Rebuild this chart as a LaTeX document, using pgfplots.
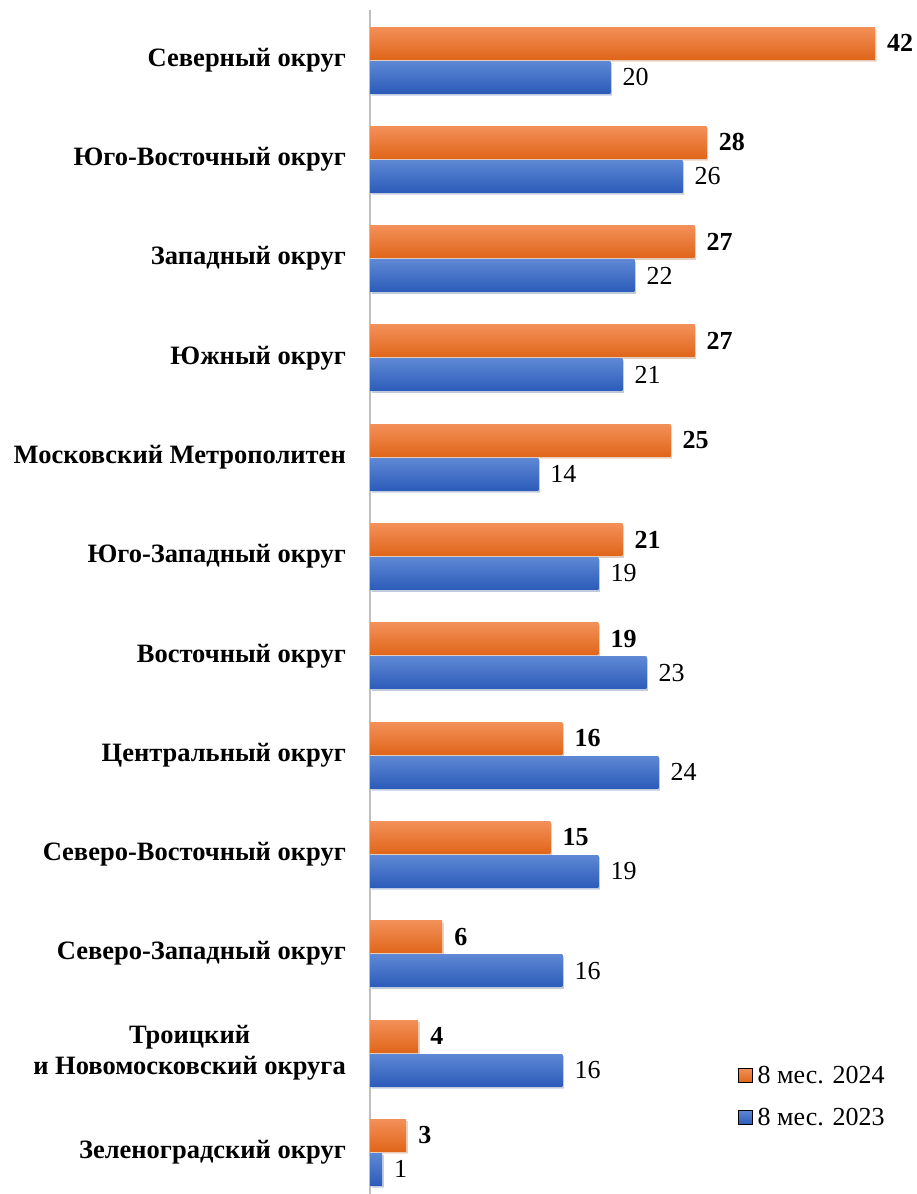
\documentclass[border=0pt]{standalone}
\usepackage{pgfplots}
\pgfplotsset{compat=1.18}
\usepackage{fontspec}
\setmainfont{Liberation Serif}
\usetikzlibrary{shadows}
\definecolor{orT}{HTML}{F39059}
\definecolor{orB}{HTML}{E0661A}
\definecolor{blT}{HTML}{5E88D4}
\definecolor{blB}{HTML}{2C5CBA}
\definecolor{axgray}{HTML}{BFBFBF}
\begin{document}
\begin{tikzpicture}
\useasboundingbox (0,0) rectangle (917bp,1194bp);
\begin{axis}[
  at={(370bp,-7.95bp)}, anchor=south west,
  scale only axis,
  width=540.9bp, height=1191.6bp,
  xmin=0, xmax=45,
  ymin=-0.5, ymax=11.5,
  y dir=reverse,
  axis x line=none,
  axis y line*=left,
  axis line style={axgray, line width=1.5bp, -},
  ytick={0,...,11},
  yticklabels={Северный округ, Юго-Восточный округ, Западный округ, Южный округ, Московский Метрополитен, Юго-Западный округ, Восточный округ, Центральный округ, Северо-Восточный округ, Северо-Западный округ, {Троицкий\\и Новомосковский округа}, Зеленоградский округ},
  major tick length=0pt,
  yticklabel style={font=\fontsize{26.5bp}{31bp}\selectfont\bfseries, align=center, anchor=east, inner sep=0pt, xshift=-24bp},
  xbar, bar width=32bp,
  nodes near coords,
  /pgf/number format/assume math mode=true,
  legend style={draw=none, fill=none, at={(0.675,0.1216)}, anchor=north west,
    font=\fontsize{26bp}{31bp}\selectfont, row sep=10bp, legend columns=1,
    nodes={minimum height=32bp},
    /tikz/every odd column/.append style={column sep=3bp},
    legend cell align=left},
  legend image code/.code={\fill[#1] (0bp,-7bp) rectangle (14bp,7bp);},
  clip=false,
  orbar/.style={bar shift=17bp, draw=none, top color=orT, bottom color=orB,
    drop shadow={opacity=0.2, shadow xshift=1.5bp, shadow yshift=-2bp},
    nodes near coords style={font=\fontsize{26bp}{31bp}\selectfont\bfseries, anchor=west, inner sep=0pt, xshift=12bp, text=black}},
  blbar/.style={bar shift=-17bp, draw=none, top color=blT, bottom color=blB,
    drop shadow={opacity=0.2, shadow xshift=1.5bp, shadow yshift=-2bp},
    nodes near coords style={font=\fontsize{26bp}{31bp}\selectfont, anchor=west, inner sep=0pt, xshift=12bp, text=black}},
]
\addlegendimage{top color=orT, bottom color=orB}
\addlegendentry{8 мес. 2024}
\addlegendimage{top color=blT, bottom color=blB}
\addlegendentry{8 мес. 2023}
% 8 мес. 2024
\addplot[orbar, forget plot] coordinates {(42,0)};
\addplot[orbar, forget plot] coordinates {(28,1)};
\addplot[orbar, forget plot] coordinates {(27,2)};
\addplot[orbar, forget plot] coordinates {(27,3)};
\addplot[orbar, forget plot] coordinates {(25,4)};
\addplot[orbar, forget plot] coordinates {(21,5)};
\addplot[orbar, forget plot] coordinates {(19,6)};
\addplot[orbar, forget plot] coordinates {(16,7)};
\addplot[orbar, forget plot] coordinates {(15,8)};
\addplot[orbar, forget plot] coordinates {(6,9)};
\addplot[orbar, forget plot] coordinates {(4,10)};
\addplot[orbar, forget plot] coordinates {(3,11)};
% 8 мес. 2023
\addplot[blbar, forget plot] coordinates {(20,0)};
\addplot[blbar, forget plot] coordinates {(26,1)};
\addplot[blbar, forget plot] coordinates {(22,2)};
\addplot[blbar, forget plot] coordinates {(21,3)};
\addplot[blbar, forget plot] coordinates {(14,4)};
\addplot[blbar, forget plot] coordinates {(19,5)};
\addplot[blbar, forget plot] coordinates {(23,6)};
\addplot[blbar, forget plot] coordinates {(24,7)};
\addplot[blbar, forget plot] coordinates {(19,8)};
\addplot[blbar, forget plot] coordinates {(16,9)};
\addplot[blbar, forget plot] coordinates {(16,10)};
\addplot[blbar, forget plot] coordinates {(1,11)};
\end{axis}
\end{tikzpicture}
\end{document}
